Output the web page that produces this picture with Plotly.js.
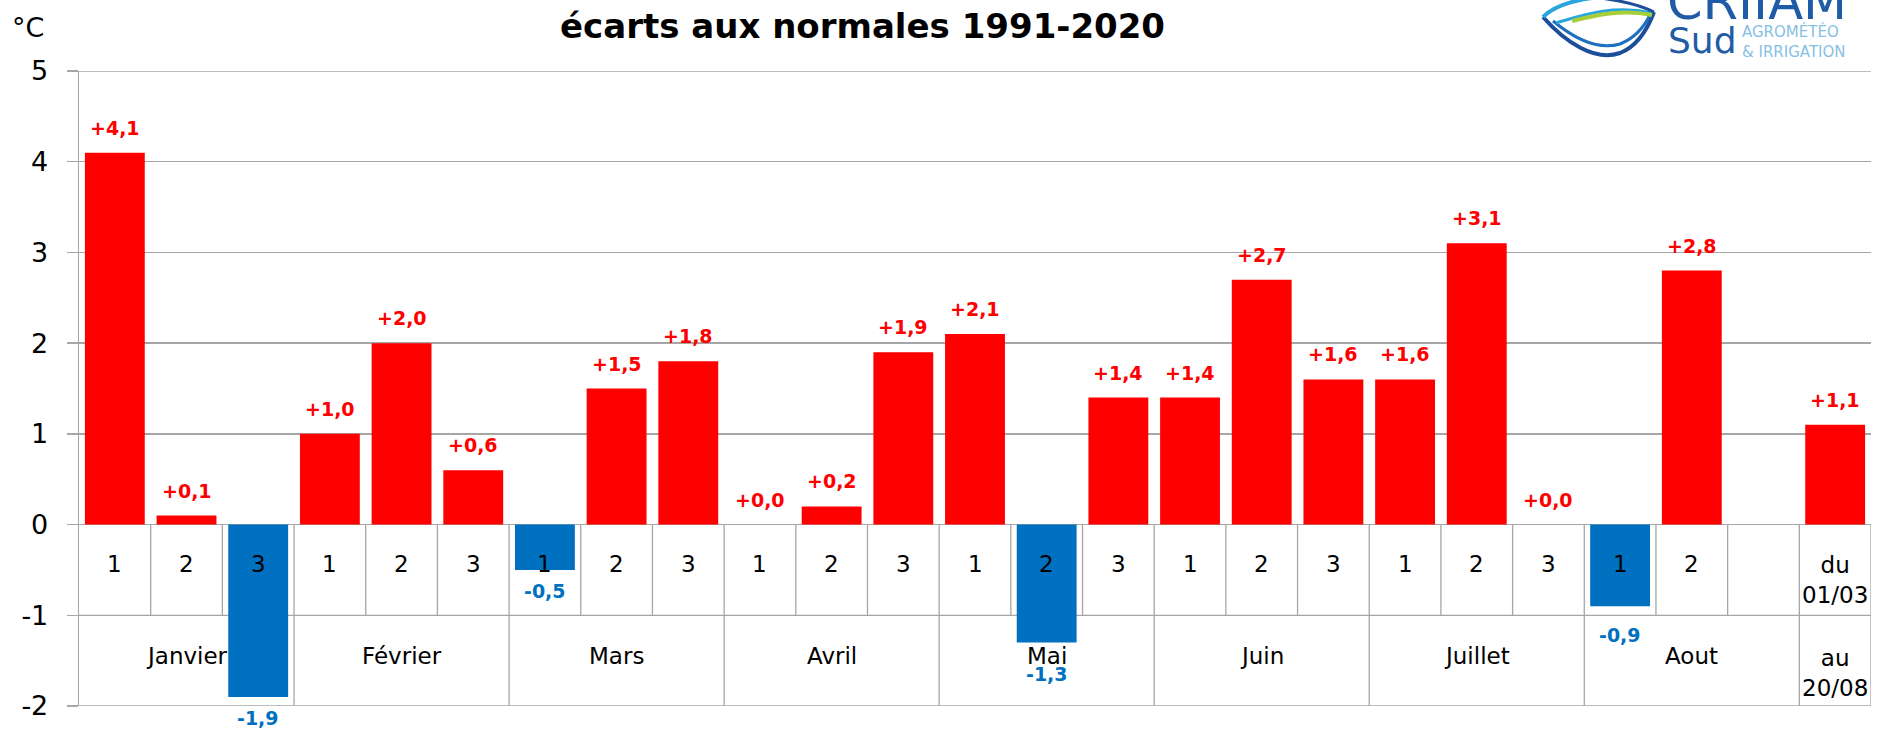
<!DOCTYPE html>
<html>
<head>
<meta charset="utf-8">
<script src="https://cdn.plot.ly/plotly-3.0.1.min.js"></script>
<style>
html,body{margin:0;padding:0;background:#fff;overflow:hidden}
#chart{width:1886px;height:729px}
</style>
</head>
<body>
<div id="chart"></div>
<script>
// ---------- DATA ----------
const titleText = 'écarts aux normales 1991-2020';
const unitText = '°C';
const months = ['Janvier', 'Février', 'Mars', 'Avril', 'Mai', 'Juin', 'Juillet', 'Aout'];
const decadeLabels = ['1','2','3', '1','2','3', '1','2','3', '1','2','3',
                      '1','2','3', '1','2','3', '1','2','3', '1','2',''];
const periodLabelTop = 'du<br>01/03';
const periodLabelBottom = 'au<br>20/08';
const values = [4.1, 0.1, -1.9,   1.0, 2.0, 0.6,   -0.5, 1.5, 1.8,   0.0, 0.2, 1.9,
                2.1, -1.3, 1.4,   1.4, 2.7, 1.6,   1.6, 3.1, 0.0,   -0.9, 2.8, null,
                1.1];
const yTickVals = [5, 4, 3, 2, 1, 0, -1, -2];
const yTickText = ['5', '4', '3', '2', '1', '0', '-1', '-2'];
const logoName = 'CRIIAM';
const logoSub = 'Sud';
const logoTagline = 'AGROMÉTÉO<br>&amp; IRRIGATION';

// ---------- STYLE / GEOMETRY ----------
const W = 1886, H = 729;
const M = {l: 79, r: 15, t: 71, b: 23};
const PW = W - M.l - M.r, PH = H - M.t - M.b;
const RED = '#FF0000', BLUE = '#0070C0', GRID = '#A6A6A6';
const FONT = 'DejaVu Sans';
const px = x => (x - M.l) / PW;
const py = y => (H - M.b - y) / PH;
// extra downward offset (px) of some negative value labels, as placed in the original
const negLabelExtraShift = {13: 10, 21: 8};

const n = values.length;
const xs = values.map((_, i) => i);
const colors = values.map(v => (v !== null && v < 0) ? BLUE : RED);
const fmt = v => (v < 0 ? '-' : '+') + Math.abs(v).toFixed(1).replace('.', ',');

const traces = [{
  type: 'bar',
  x: xs,
  y: values,
  marker: {color: colors, line: {width: 0}},
  hoverinfo: 'skip',
  showlegend: false
}];

const annotations = [];
// value labels
values.forEach((v, i) => {
  if (v === null) return;
  const neg = v < 0;
  annotations.push({
    x: i, y: v, xref: 'x', yref: 'y',
    text: fmt(v), showarrow: false,
    xanchor: 'center', yanchor: neg ? 'top' : 'bottom',
    yshift: neg ? -(8 + (negLabelExtraShift[i] || 0)) : 12,
    font: {family: FONT, size: 19, weight: 'bold', color: neg ? BLUE : RED}
  });
});
// decade row
decadeLabels.forEach((d, i) => {
  if (!d) return;
  annotations.push({
    x: i, y: -0.5, xref: 'x', yref: 'y', text: d, showarrow: false,
    xanchor: 'center', yanchor: 'middle', yshift: 6,
    font: {family: FONT, size: 23, color: '#000'}
  });
});
// month row
months.forEach((m, g) => {
  annotations.push({
    x: g * 3 + 1, y: -1.5, xref: 'x', yref: 'y', text: m, showarrow: false,
    xanchor: 'center', yanchor: 'middle', yshift: 5,
    font: {family: FONT, size: 23, color: '#000'}
  });
});
// period column
annotations.push({
  x: n - 1, y: -0.5, xref: 'x', yref: 'y', text: periodLabelTop, showarrow: false,
  xanchor: 'center', yanchor: 'middle', yshift: -10,
  font: {family: FONT, size: 23, color: '#000'}
});
annotations.push({
  x: n - 1, y: -1.5, xref: 'x', yref: 'y', text: periodLabelBottom, showarrow: false,
  xanchor: 'center', yanchor: 'middle', yshift: -12,
  font: {family: FONT, size: 23, color: '#000'}
});
// title & unit
annotations.push({
  x: px(862), y: py(26), xref: 'paper', yref: 'paper', text: titleText, showarrow: false,
  xanchor: 'center', yanchor: 'middle',
  font: {family: FONT, size: 34, weight: 'bold', color: '#000'}
});
annotations.push({
  x: px(28), y: py(28), xref: 'paper', yref: 'paper', text: unitText, showarrow: false,
  xanchor: 'center', yanchor: 'middle',
  font: {family: FONT, size: 27, color: '#000'}
});
// logo text
const LOGO_DARK = '#1F5BA6', LOGO_LIGHT = '#86BFE3';
annotations.push({
  x: px(1665), y: py(33), xref: 'paper', yref: 'paper', text: logoName, showarrow: false,
  xanchor: 'left', yanchor: 'bottom',
  font: {family: '"DejaVu Sans ExtraLight", "DejaVu Sans"', size: 51, color: LOGO_DARK}
});
annotations.push({
  x: px(1666), y: py(40), xref: 'paper', yref: 'paper', text: logoSub, showarrow: false,
  xanchor: 'left', yanchor: 'middle',
  font: {family: '"DejaVu Sans ExtraLight", "DejaVu Sans"', size: 36, color: LOGO_DARK}
});
annotations.push({
  x: px(1740), y: py(42), xref: 'paper', yref: 'paper', text: logoTagline, showarrow: false,
  xanchor: 'left', yanchor: 'middle', align: 'left',
  font: {family: FONT, size: 15, color: LOGO_LIGHT}
});

// ---------- TABLE LINES ----------
const shapes = [];
const lineStyle = {color: GRID, width: 1.3};
const vline = (x, y0, y1) => shapes.push({type: 'line', xref: 'x', yref: 'y', x0: x, x1: x, y0, y1, line: lineStyle, layer: 'below'});
const hline = (y) => shapes.push({type: 'line', xref: 'x', yref: 'y', x0: -0.5, x1: n - 0.5, y0: y, y1: y, line: lineStyle, layer: 'below'});
hline(5); hline(-1); hline(-2);
for (let i = 1; i < n; i++) {
  const boundaryOfGroup = (i % 3 === 0);
  vline(i - 0.5, 0, (boundaryOfGroup) ? -2 : -1);
}
vline(n - 0.5, 0, -2);

// ---------- LOGO SWOOSH ----------
const pth = (cmds) => cmds.map(c => c[0] + c.slice(1).map((v, k) => (k % 2 === 0 ? px(v) : py(v)).toFixed(5)).join(',')).join(' ');
const swoosh = [
  {d: [['M',1543,17], ['C',1565,42, 1595,62, 1620,53], ['C',1638,46, 1648,28, 1654,12]], c: '#1D4E9A', w: 4},
  {d: [['M',1553,21], ['C',1576,40, 1600,50, 1620,44], ['C',1635,38, 1645,25, 1650,15]], c: '#1E6FBF', w: 3},
  {d: [['M',1543,17], ['C',1552,8, 1570,1, 1592,-2]], c: '#2AA5DE', w: 4},
  {d: [['M',1556,23], ['C',1580,16, 1612,4, 1652,13]], c: '#2AA5DE', w: 3},
  {d: [['M',1572,21], ['C',1596,15, 1622,9, 1652,15]], c: '#A6CE39', w: 4},
  {d: [['M',1600,-2], ['C',1624,1, 1642,6, 1654,12]], c: '#1D4E9A', w: 3}
];
swoosh.forEach(s => shapes.push({type: 'path', xref: 'paper', yref: 'paper', path: pth(s.d), line: {color: s.c, width: s.w}, layer: 'above'}));

const layout = {
  width: W, height: H, autosize: false,
  margin: {l: M.l, r: M.r, t: M.t, b: M.b, pad: 0},
  paper_bgcolor: '#fff', plot_bgcolor: '#fff',
  showlegend: false,
  bargap: 0.165,
  font: {family: FONT, color: '#000'},
  xaxis: {
    range: [-0.5, n - 0.5], showticklabels: false, showgrid: false, zeroline: false,
    showline: false, ticks: '', fixedrange: true
  },
  yaxis: {
    range: [-2, 5], tickvals: yTickVals, ticktext: yTickText,
    showgrid: true, gridcolor: GRID, gridwidth: 1.3,
    zeroline: true, zerolinecolor: GRID, zerolinewidth: 1.3,
    showline: true, linecolor: GRID, linewidth: 1.3,
    ticks: 'outside', ticklen: 11, tickcolor: GRID, tickwidth: 1.3,
    ticklabelstandoff: 13,
    tickfont: {family: FONT, size: 27, color: '#000'},
    fixedrange: true
  },
  annotations, shapes
};

Plotly.newPlot('chart', traces, layout, {displayModeBar: false, staticPlot: true});
</script>
</body>
</html>
